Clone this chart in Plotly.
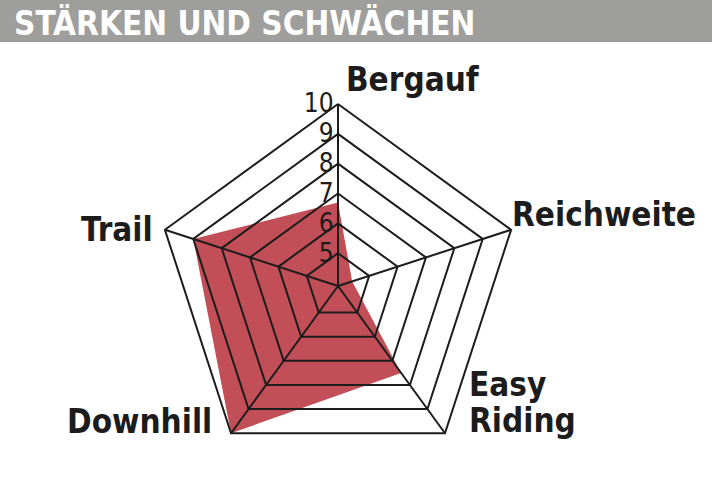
import plotly.graph_objects as go

# scores per category (scale 5-10)
categories = ["Bergauf", "Reichweite", "Easy Riding", "Downhill", "Trail"]
scores = [6.7, 4.4, 7.5, 10, 9]
ring_values = [5, 6, 7, 8, 9, 10]
r_min = 3.9
r_max = 10.08  # a bit past 10 so the outer ring is not clipped

title_text = "STÄRKEN UND SCHWÄCHEN"

RED = "#c24e58"
INK = "#1c1c1c"
GREY = "#9e9e9c"

W, H = 712, 490

fig = go.Figure()

closed_theta = categories + [categories[0]]

# red score area
fig.add_trace(go.Scatterpolar(
    r=scores + [scores[0]],
    theta=closed_theta,
    mode="lines",
    fill="toself",
    fillcolor=RED,
    line=dict(width=0, color=RED),
    hoverinfo="skip",
))

# pentagon rings drawn on top of the fill
for v in ring_values:
    fig.add_trace(go.Scatterpolar(
        r=[v] * len(closed_theta),
        theta=closed_theta,
        mode="lines",
        line=dict(color=INK, width=2),
        hoverinfo="skip",
    ))

# spokes
for cat in categories:
    fig.add_trace(go.Scatterpolar(
        r=[r_min, ring_values[-1]],
        theta=[cat, cat],
        mode="lines",
        line=dict(color=INK, width=2),
        hoverinfo="skip",
    ))

label_font = dict(family="DejaVu Sans Condensed", size=33, color=INK, weight="bold")

# category labels (x, y in pixels from top-left, anchor)
label_pos = {
    "Bergauf": [(344, 80, "left", "Bergauf")],
    "Reichweite": [(510, 214, "left", "Reichweite")],
    "Easy Riding": [(467, 384, "left", "Easy"), (467, 420, "left", "Riding")],
    "Downhill": [(214, 421, "right", "Downhill")],
    "Trail": [(155, 229, "right", "Trail")],
}

annotations = []
for cat in categories:
    for x, y, anchor, txt in label_pos[cat]:
        annotations.append(dict(
            x=x / W, y=1 - y / H, xref="paper", yref="paper",
            text=txt, showarrow=False, xanchor=anchor, yanchor="middle",
            font=label_font,
        ))

annotations.append(dict(
    x=12 / W, y=1 - 23 / H, xref="paper", yref="paper",
    text=title_text, showarrow=False, xanchor="left", yanchor="middle",
    font=dict(family="DejaVu Sans Condensed", size=33, color="white", weight="bold"),
))

# polar centre and radius of the 10-ring, in pixels
cx, cy, R10 = 338, 286, 182
R = R10 * (r_max - r_min) / (10 - r_min)

fig.update_layout(
    width=W, height=H,
    margin=dict(l=0, r=0, t=0, b=0),
    paper_bgcolor="white",
    plot_bgcolor="white",
    showlegend=False,
    shapes=[dict(type="rect", xref="paper", yref="paper",
                 x0=0, x1=1, y0=1 - 42 / H, y1=1,
                 fillcolor=GREY, line=dict(width=0), layer="below")],
    annotations=annotations,
    polar=dict(
        domain=dict(x=[(cx - R) / W, (cx + R) / W], y=[1 - (cy + R) / H, 1 - (cy - R) / H]),
        gridshape="linear",
        bgcolor="rgba(0,0,0,0)",
        angularaxis=dict(
            rotation=90, direction="clockwise",
            categoryorder="array", categoryarray=categories,
            showgrid=False, showline=False, showticklabels=False, ticks="",
        ),
        radialaxis=dict(
            range=[r_min, r_max], angle=90, side="counterclockwise",
            tickvals=ring_values, ticks="",
            showgrid=False, showline=False,
            tickfont=dict(family="Liberation Sans Narrow, DejaVu Sans Condensed", size=26, color=INK),
            tickangle=90,
        ),
    ),
)

fig.write_html("out.html", config={"displayModeBar": False},
               post_script="document.body.style.margin='0';")
